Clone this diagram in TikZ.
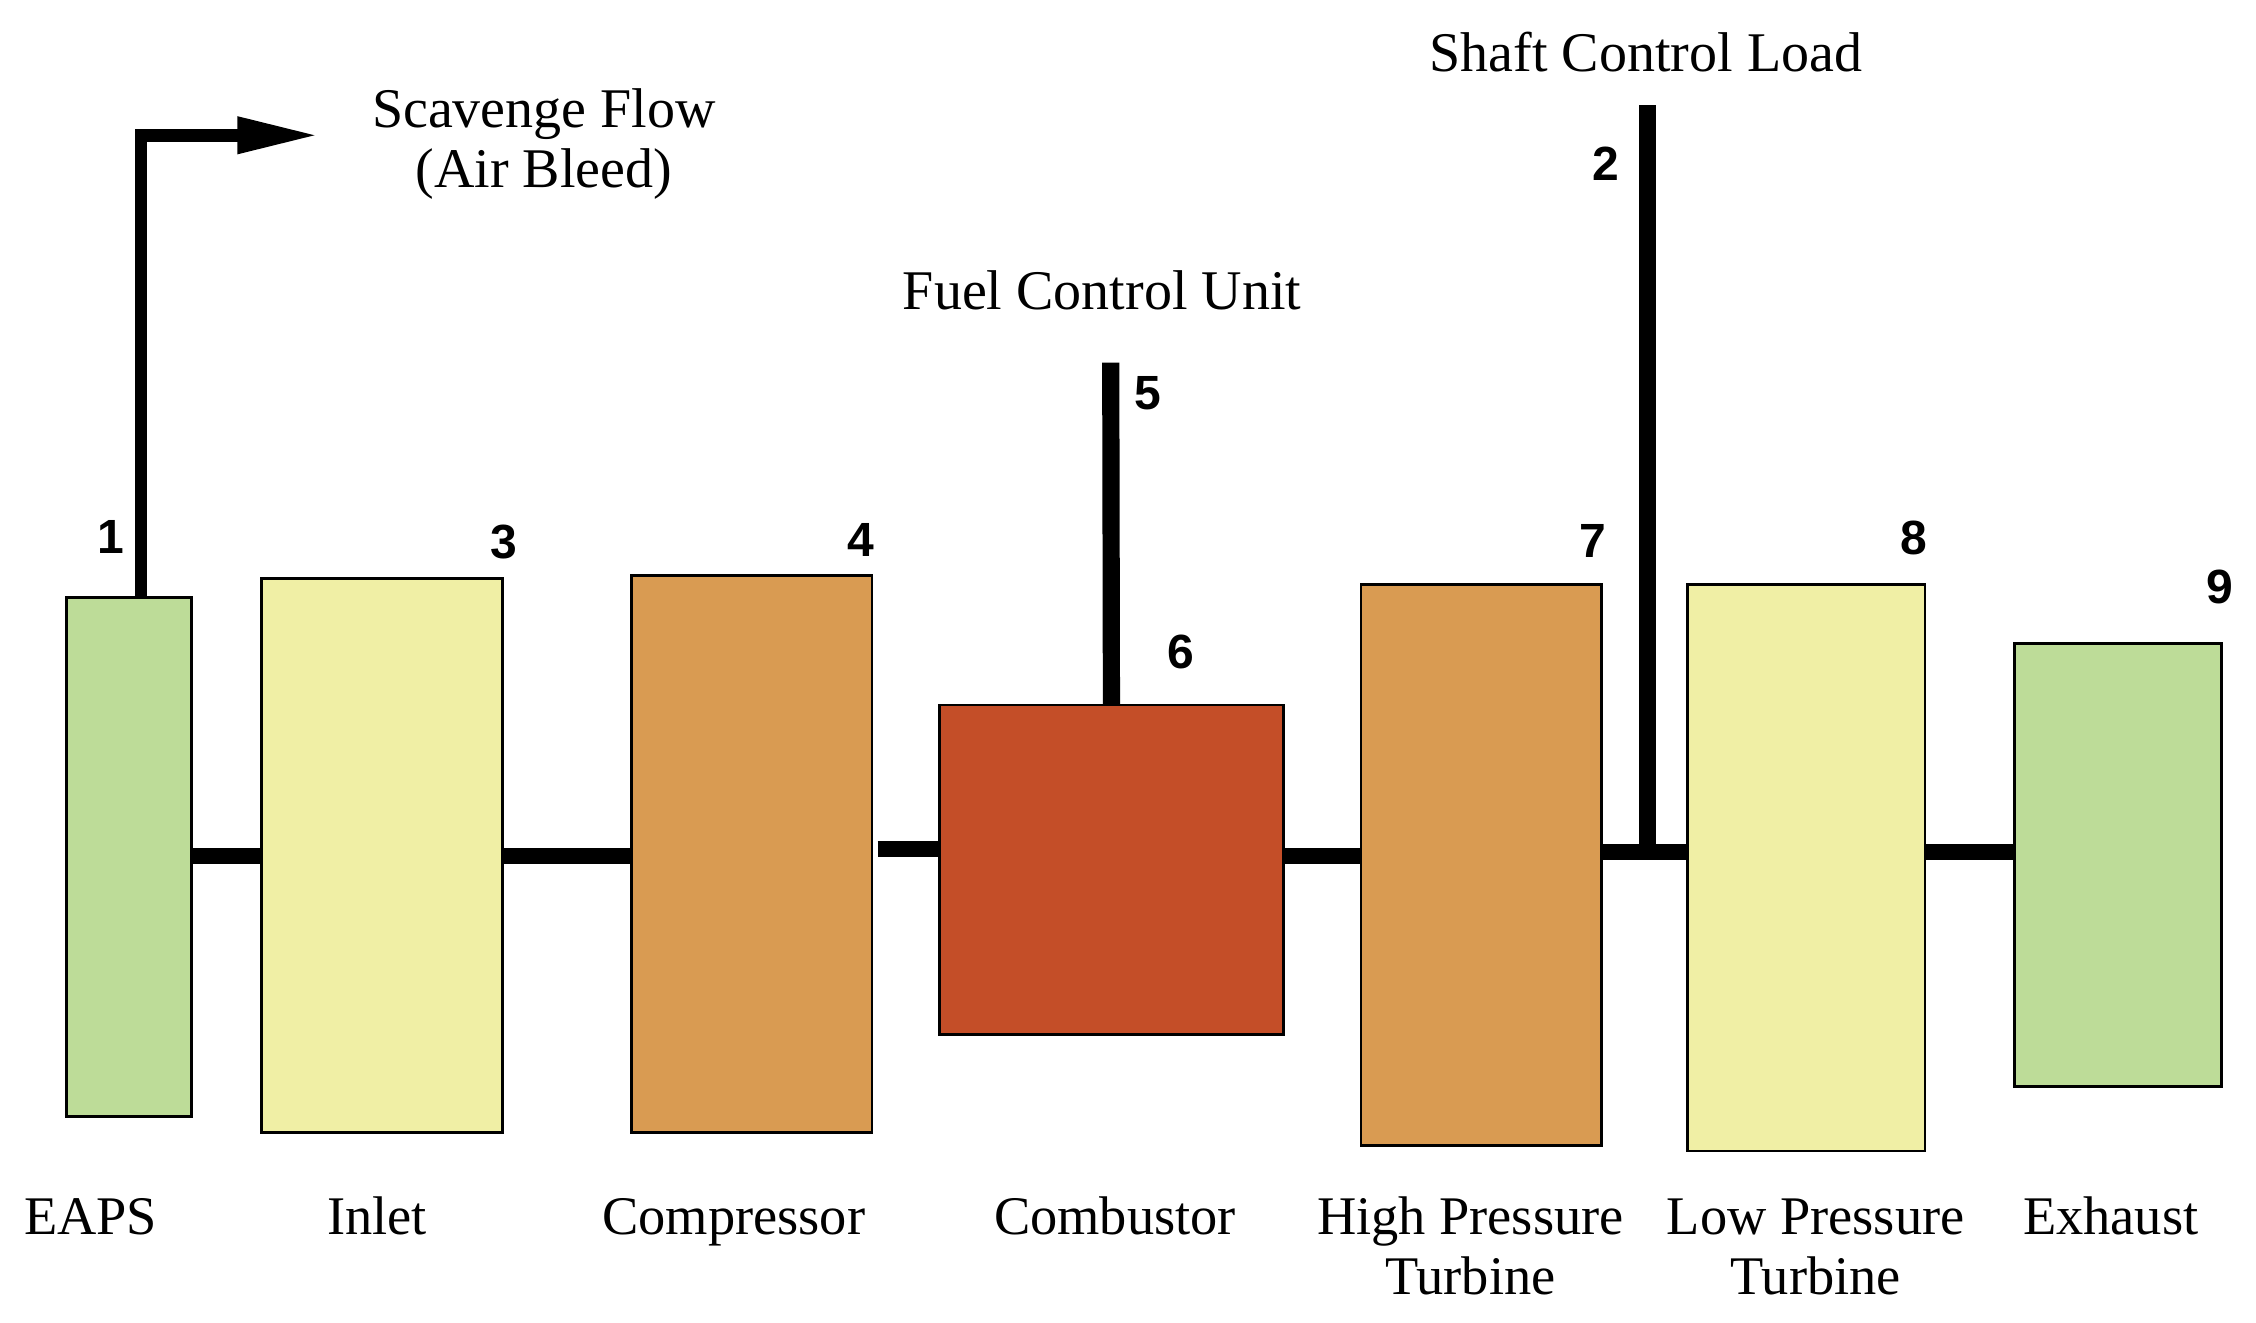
\documentclass[tikz,border=0pt]{standalone}
\usepackage{fontspec}
\setmainfont{Liberation Serif}
\newfontfamily\numfont{Liberation Sans}
\usetikzlibrary{arrows.meta}
\definecolor{eapsgreen}{RGB}{189,220,152}
\definecolor{paleyellow}{RGB}{240,239,165}
\definecolor{tanorange}{RGB}{217,155,82}
\definecolor{burnt}{RGB}{196,78,40}
\newdimen\uu \uu=0.3597pt
\tikzset{
  blk/.style={draw=black, line width=0.7pt, inner sep=0pt, outer sep=0pt, anchor=north west},
  shaftline/.style={line width=3.9pt, black},
  stem/.style={line width=4.3pt, black},
  scavline/.style={line width=3.2pt, black},
  numlbl/.style={font=\numfont\bfseries\fontsize{12}{12}\selectfont, inner sep=0pt},
  txt/.style={font=\fontsize{14}{15}\selectfont, align=center, inner sep=0pt, anchor=base},
  btxt/.style={txt, font=\fontsize{13.6}{15}\selectfont},
}
\begin{document}
\begin{tikzpicture}[x=0.3597pt, y=-0.3597pt]
\useasboundingbox (0,0) rectangle (1568,919);
% blocks
\node[blk, fill=eapsgreen, minimum width=87*\uu, minimum height=361*\uu] (eaps) at (46,415) {};
\node[blk, fill=paleyellow, minimum width=167*\uu, minimum height=385*\uu] (inlet) at (182,402) {};
\node[blk, fill=tanorange, minimum width=167*\uu, minimum height=387*\uu] (comp) at (439,400) {};
\node[blk, fill=burnt, minimum width=239*\uu, minimum height=229*\uu] (comb) at (653,490) {};
\node[blk, fill=tanorange, minimum width=167*\uu, minimum height=390*\uu] (hpt) at (946,406) {};
\node[blk, fill=paleyellow, minimum width=165*\uu, minimum height=394*\uu] (lpt) at (1173,406) {};
\node[blk, fill=eapsgreen, minimum width=144*\uu, minimum height=308*\uu] (exh) at (1400,447) {};
% shaft
\draw[shaftline] (eaps.east |- 0,595) -- (inlet.west |- 0,595);
\draw[shaftline] (inlet.east |- 0,595) -- (comp.west |- 0,595);
\draw[shaftline] (comp.east |- 0,590) ++(4,0) -- (comb.west |- 0,590);
\draw[shaftline] (comb.east |- 0,595) -- (hpt.west |- 0,595);
\draw[shaftline] (hpt.east |- 0,592) -- (lpt.west |- 0,592);
\draw[shaftline] (lpt.east |- 0,592) -- (exh.west |- 0,592);
% shaft control load stem
\coordinate (top2) at (1145,73);
\coordinate (j2) at (1145,592);
\draw[stem] (top2) -- (j2);
% fuel control stem
\coordinate (top5) at (772,252);
\draw[stem] (top5) -- (comb.north);
% scavenge flow
\coordinate (scav) at (98,94);
\coordinate (scavtip) at (222,94);
\draw[scavline, -{Triangle[length=20.5pt, width=8.5pt]}] (eaps.north -| scav) |- (scavtip);
% numbers
\node[numlbl] (n1) at (77,373) {1};
\node[numlbl] (n2) at (1116,114) {2};
\node[numlbl] (n3) at (350,377) {3};
\node[numlbl] (n4) at (598,375) {4};
\node[numlbl] (n5) at (798,273) {5};
\node[numlbl] (n6) at (821,453) {6};
\node[numlbl] (n7) at (1107,376) {7};
\node[numlbl] (n8) at (1330,374) {8};
\node[numlbl] (n9) at (1543,408) {9};
% top texts (base anchor = last line baseline)
\node[txt] (tscav) at (378,130) {Scavenge Flow\\(Air Bleed)};
\node[txt] (tfuel) at (766,215) {Fuel Control Unit};
\node[txt] (tshaft) at (1144,50) {Shaft Control Load};
% bottom labels
\node[btxt] (leaps) at (63,858) {EAPS};
\node[btxt] (linlet) at (262,858) {Inlet};
\node[btxt] (lcomp) at (510,858) {Compressor};
\node[btxt] (lcomb) at (775,858) {Combustor};
\node[btxt] (lhpt) at (1022,900) {High Pressure\\Turbine};
\node[btxt] (llpt) at (1262,900) {Low Pressure\\Turbine};
\node[btxt] (lexh) at (1467,858) {Exhaust};
\end{tikzpicture}
\end{document}
